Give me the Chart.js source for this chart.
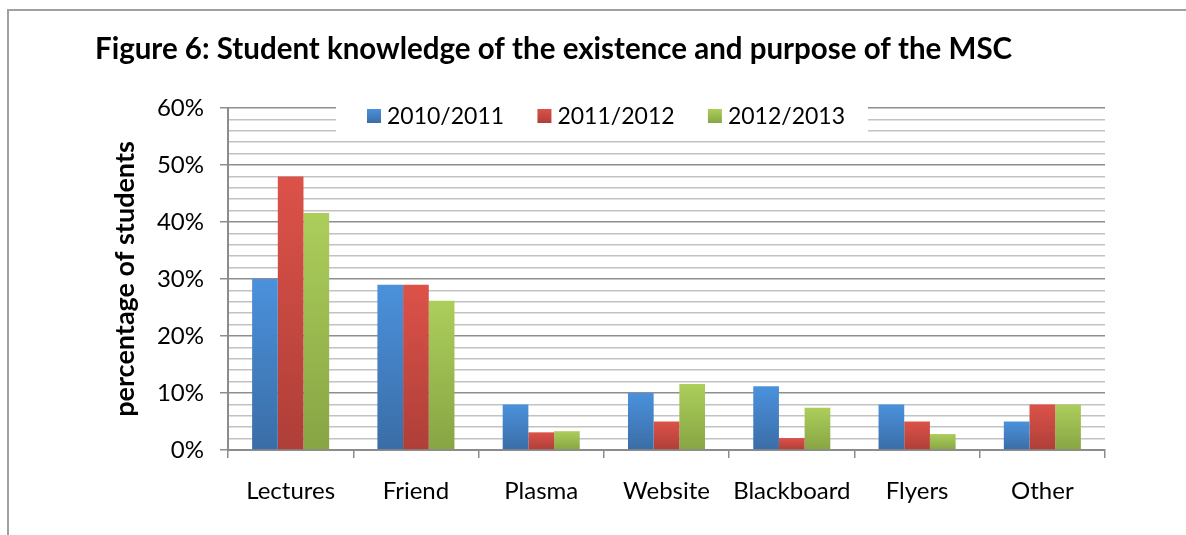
<!DOCTYPE html>
<html>
<head>
<meta charset="utf-8">
<script src="https://cdn.jsdelivr.net/npm/chart.js@4.4.0/dist/chart.umd.min.js"></script>
<style>
  html, body { margin: 0; padding: 0; background: #fff; }
  #wrap { width: 1186px; height: 535px; position: relative; }
</style>
</head>
<body>
<div id="wrap"><canvas id="c" width="1186" height="535"></canvas></div>
<script>
const categories = ['Lectures', 'Friend', 'Plasma', 'Website', 'Blackboard', 'Flyers', 'Other'];
const seriesNames = ['2010/2011', '2011/2012', '2012/2013'];
const values2010 = [30, 29, 8, 10, 11.2, 8, 5];
const values2011 = [48, 29, 3.1, 5, 2.1, 5, 8];
const values2012 = [41.6, 26.2, 3.3, 11.6, 7.4, 2.8, 8];
const yTicksMajor = [0, 10, 20, 30, 40, 50, 60];

const FONT = 'Lato, "Open Sans", sans-serif';
const colorPairs = [
  ['#4b91dc', '#3a6da6'],
  ['#dc5249', '#ae3f38'],
  ['#acce5b', '#87a544']
];

function barGradient(idx) {
  return function(ctx) {
    const chart = ctx.chart;
    if (!chart.chartArea || ctx.type !== 'data') return colorPairs[idx][0];
    const ys = chart.scales.y;
    const v = ctx.raw;
    const top = ys.getPixelForValue(v);
    const bottom = ys.getPixelForValue(0);
    if (!(bottom > top)) return colorPairs[idx][0];
    const g = chart.ctx.createLinearGradient(0, top, 0, bottom);
    g.addColorStop(0, colorPairs[idx][0]);
    g.addColorStop(1, colorPairs[idx][1]);
    return g;
  };
}

const frame = {
  id: 'frame',
  beforeDraw(chart) {
    const c = chart.ctx;
    c.save();
    c.fillStyle = '#fff';
    c.fillRect(0, 0, chart.width, chart.height);
    c.strokeStyle = '#a0a0a0';
    c.lineWidth = 2;
    c.beginPath();
    c.moveTo(8, 535);
    c.lineTo(8, 10);
    c.lineTo(1186, 10);
    c.stroke();
    c.restore();
  }
};

const innerLegend = {
  id: 'innerLegend',
  beforeDatasetsDraw(chart) {
    const c = chart.ctx;
    const ys = chart.scales.y;
    c.save();
    const yTop = ys.getPixelForValue(60) - 8;
    const yBot = ys.getPixelForValue(55);
    c.fillStyle = '#fff';
    c.fillRect(336, yTop, 532, yBot - yTop);
    c.font = '23px ' + FONT;
    c.textBaseline = 'middle';
    c.textAlign = 'left';
    const sq = 14, gapTxt = 6;
    const widths = chart.data.datasets.map(d => sq + gapTxt + c.measureText(d.label).width);
    const total = 478;
    const gap = (total - widths.reduce((a, b) => a + b, 0)) / (widths.length - 1);
    let x = 367;
    const cy = 116;
    chart.data.datasets.forEach((d, i) => {
      const g = c.createLinearGradient(0, cy - 7, 0, cy + 7);
      g.addColorStop(0, colorPairs[i][0]);
      g.addColorStop(1, colorPairs[i][1]);
      c.fillStyle = g;
      c.fillRect(x, cy - 7, sq, sq);
      c.fillStyle = '#000';
      c.fillText(d.label, x + sq + gapTxt, cy + 1);
      x += widths[i] + gap;
    });
    c.restore();
  }
};

new Chart(document.getElementById('c'), {
  type: 'bar',
  data: {
    labels: categories,
    datasets: [
      { label: seriesNames[0], data: values2010, backgroundColor: barGradient(0) },
      { label: seriesNames[1], data: values2011, backgroundColor: barGradient(1) },
      { label: seriesNames[2], data: values2012, backgroundColor: barGradient(2) }
    ]
  },
  options: {
    responsive: false,
    animation: false,
    devicePixelRatio: 1,
    layout: { padding: { top: 30, left: 95, right: 81, bottom: 0 } },
    datasets: { bar: { categoryPercentage: 0.615, barPercentage: 1.0, borderWidth: 0 } },
    plugins: {
      legend: { display: false },
      tooltip: { enabled: false },
      title: {
        display: true,
        text: 'Figure 6: Student knowledge of the existence and purpose of the MSC',
        align: 'start',
        color: '#000',
        font: { family: FONT, size: 29.5, weight: 'bold', lineHeight: 1.2 },
        padding: { top: 2, bottom: 40.6 }
      }
    },
    scales: {
      x: {
        afterFit(s) { s.height = 85; },
        grid: { offset: true, drawOnChartArea: false, tickLength: 8, color: '#8c8c8c', lineWidth: 1.5 },
        border: { color: '#8c8c8c', width: 2 },
        ticks: { color: '#000', font: { family: FONT, size: 24 }, padding: 19, maxRotation: 0 }
      },
      y: {
        min: 0, max: 60,
        afterFit(s) { s.width = 133; },
        afterBuildTicks(s) {
          const t = [];
          for (let v = 0; v <= 60; v += 2) t.push({ value: v });
          s.ticks = t;
        },
        ticks: {
          autoSkip: false,
          color: '#000',
          font: { family: FONT, size: 24 },
          padding: 16,
          callback: (v) => yTicksMajor.includes(v) ? v + '%' : ''
        },
        grid: {
          tickLength: 8,
          lineWidth: 1.5,
          color: (ctx) => (ctx.tick && ctx.tick.value % 10 === 0) ? '#8e8e8e' : '#c2c2c2',
          tickColor: (ctx) => (ctx.tick && ctx.tick.value % 10 === 0) ? '#8e8e8e' : 'rgba(0,0,0,0)'
        },
        border: { color: '#8c8c8c', width: 2 },
        title: {
          display: true,
          text: 'percentage of students',
          color: '#000',
          font: { family: FONT, size: 27, weight: 'bold', lineHeight: 1.2 },
          padding: { top: 14, bottom: 0 }
        }
      }
    }
  },
  plugins: [frame, innerLegend]
});
</script>
</body>
</html>
